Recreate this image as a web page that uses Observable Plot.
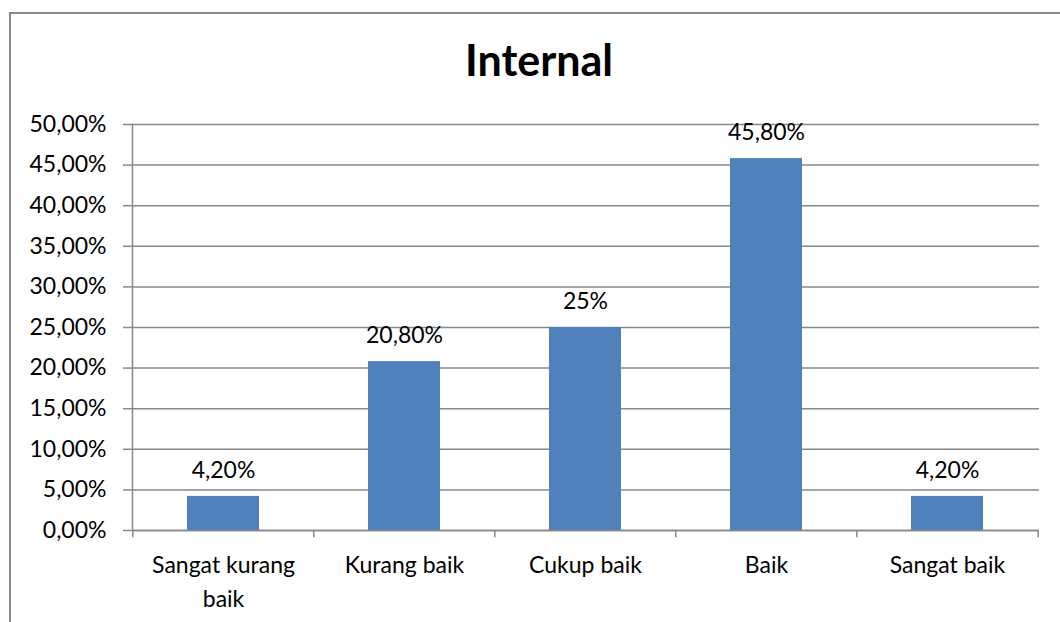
<!DOCTYPE html>
<html>
<head>
<meta charset="utf-8">
<script src="https://cdn.jsdelivr.net/npm/d3@7"></script>
<script src="https://cdn.jsdelivr.net/npm/@observablehq/plot@0.6"></script>
<style>
  html, body { margin: 0; padding: 0; background: #fff; }
  #wrap { position: relative; width: 1060px; height: 622px; overflow: hidden; }
  #border { position: absolute; left: 9px; top: 12px; right: -10px; bottom: -10px;
            border-top: 2px solid #8a8a8a; border-left: 2px solid #8a8a8a; }
  #chart { position: absolute; left: 0; top: 0; }
</style>
</head>
<body>
<div id="wrap"><div id="border"></div><div id="chart"></div></div>
<script>
const categories = ["Sangat kurang baik", "Kurang baik", "Cukup baik", "Baik", "Sangat baik"];
const categoryLabels = ["Sangat kurang\nbaik", "Kurang baik", "Cukup baik", "Baik", "Sangat baik"];
const values = [0.042, 0.208, 0.25, 0.458, 0.042];
const valueLabels = ["4,20%", "20,80%", "25%", "45,80%", "4,20%"];
const yTicks = [0, 0.05, 0.10, 0.15, 0.20, 0.25, 0.30, 0.35, 0.40, 0.45, 0.50];
const yTickLabels = ["0,00%", "5,00%", "10,00%", "15,00%", "20,00%", "25,00%", "30,00%", "35,00%", "40,00%", "45,00%", "50,00%"];
const title = "Internal";

const data = categories.map((c, i) => ({cat: c, value: values[i], label: valueLabels[i]}));

const W = 1060, H = 622, mL = 132, mR = 21, mT = 124, mB = 92;
const step = (W - mL - mR) / categories.length;
const gray = "#888888";

const chart = Plot.plot({
  width: W,
  height: H,
  marginLeft: mL,
  marginRight: mR,
  marginTop: mT,
  marginBottom: mB,
  style: {fontFamily: "Lato", color: "#000", background: "transparent"},
  x: {domain: categories, paddingInner: 0.6, paddingOuter: 0.3},
  y: {domain: [0, 0.5]},
  marks: [
    Plot.gridY(yTicks, {stroke: gray, strokeOpacity: 1, strokeWidth: 1.5}),
    Plot.axisY(yTicks, {
      tickSize: 9, tickPadding: 17, fontSize: 23, stroke: gray, strokeWidth: 1.5,
      tickFormat: (d) => yTickLabels[yTicks.indexOf(d)], label: null
    }),
    Plot.barY(data, {x: "cat", y: "value", fill: "#4F81BD"}),
    Plot.frame({anchor: "left", stroke: gray, strokeWidth: 1.5}),
    Plot.ruleY([0], {stroke: gray, strokeWidth: 1.5}),
    Plot.ruleX(categories, {x: (d) => d, y1: 0, y2: -0.009, dx: -step / 2, stroke: gray, strokeWidth: 1.5}),
    Plot.ruleX([categories[categories.length - 1]], {x: (d) => d, y1: 0, y2: -0.009, dx: step / 2, stroke: gray, strokeWidth: 1.5}),
    Plot.axisX({
      tickSize: 0, tickPadding: 19, fontSize: 23, lineHeight: 1.45,
      tickFormat: (d) => categoryLabels[categories.indexOf(d)], label: null
    }),
    Plot.text(data, {x: "cat", y: "value", text: "label", dy: -26, fontSize: 23, lineAnchor: "middle", fill: "#000"}),
    Plot.text([title], {frameAnchor: "top", dx: -47, dy: -62, fontSize: 43, fontWeight: "bold", lineAnchor: "middle", fill: "#000"})
  ]
});
document.getElementById("chart").appendChild(chart);
</script>
</body>
</html>
